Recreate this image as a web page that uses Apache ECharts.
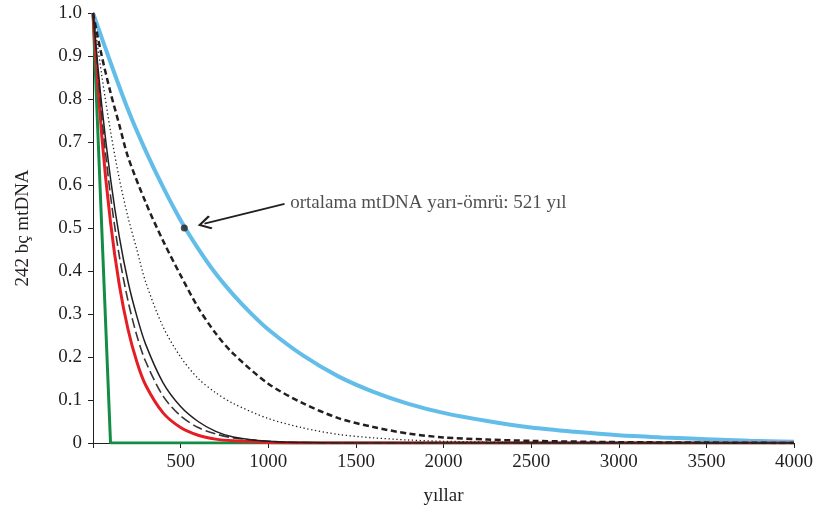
<!DOCTYPE html>
<html><head><meta charset="utf-8">
<script src="https://cdn.jsdelivr.net/npm/echarts@6/dist/echarts.min.js"></script>
<style>html,body{margin:0;padding:0;background:#fff}#c{width:816px;height:517px}</style>
</head><body><div id="c"></div>
<script>
// ---- data ----
const blueYears = [0,100,200,300,400,500,600,700,800,900,1000,1200,1400,1600,1800,2000,2250,2500,2750,3000,3250,3500,3750,4000];
const blueValues = [1,0.885,0.775,0.68,0.595,0.518,0.452,0.394,0.345,0.302,0.264,0.203,0.155,0.119,0.091,0.07,0.051,0.036,0.026,0.018,0.013,0.009,0.005,0.003];

const shortDashYears = [0,50,100,150,200,300,400,500,600,700,800,1000,1200,1400,1600,1800,2000,2250,2500,3000,3500,4000];
const shortDashValues = [1,0.9,0.815,0.74,0.665,0.56,0.47,0.39,0.315,0.255,0.208,0.138,0.092,0.058,0.037,0.022,0.013,0.008,0.005,0.002,0.001,0];

const dottedYears = [0,50,100,150,200,250,300,400,500,600,700,800,1000,1200,1400,1600,1800,2000,2500,3000,4000];
const dottedValues = [1,0.855,0.725,0.615,0.525,0.45,0.375,0.27,0.2,0.15,0.117,0.092,0.057,0.035,0.02,0.012,0.007,0.004,0.001,0,0];

const fastYears = [0,50,100,150,200,250,300,400,500,600,700,800,1000,1200,1400,4000];
const solidValues = [1,0.785,0.615,0.48,0.375,0.295,0.23,0.14,0.085,0.05,0.027,0.014,0.004,0.001,0,0];
const longDashValues = [1,0.76,0.575,0.435,0.33,0.25,0.19,0.109,0.063,0.036,0.021,0.012,0.004,0.001,0,0];
const redValues = [1,0.715,0.513,0.368,0.264,0.189,0.135,0.07,0.036,0.018,0.009,0.005,0.001,0,0,0];

const greenYears = [0,100,4000];
const greenValues = [1,0,0];

const halfLifePoint = [521, 0.5];
const arrowFrom = [1093, 0.556];
const arrowTo = [636, 0.510];
const labelAnchor = [1122, 0.558];
const annotationText = 'ortalama mtDNA yarı-ömrü: 521 yıl';

const xTitle = 'yıllar';
const yTitle = '242 bç mtDNA';

// ---- build ----
const zip = (xs, ys) => xs.map((x, i) => [x, ys[i]]);
const INK = '#231f20';
const FONT = 'Liberation Serif';
const FS = 19;

function lineSeries(name, xs, ys, color, width, type, z, smooth) {
  return {
    name, type: 'line', data: zip(xs, ys), symbol: 'none', smooth: smooth,
    lineStyle: { color, width, type, cap: 'butt' }, z, silent: true
  };
}

const chart = echarts.init(document.getElementById('c'), null, { renderer: 'canvas' });
chart.setOption({
  animation: false,
  backgroundColor: '#fff',
  grid: { left: 93, right: 21, top: 13, bottom: 74 },
  xAxis: {
    type: 'value', min: 0, max: 4000, interval: 500,
    axisLine: { show: true, onZero: false, lineStyle: { color: INK, width: 1 } },
    axisTick: { show: true, length: 5, lineStyle: { color: INK, width: 1 } },
    axisLabel: { formatter: v => v === 0 ? '' : String(v), color: INK, fontFamily: FONT, fontSize: FS, margin: 10 },
    splitLine: { show: false },
    name: xTitle, nameLocation: 'middle', nameGap: 44,
    nameTextStyle: { color: INK, fontFamily: FONT, fontSize: FS }
  },
  yAxis: {
    type: 'value', min: 0, max: 1, interval: 0.1,
    axisLine: { show: true, onZero: false, lineStyle: { color: INK, width: 1 } },
    axisTick: { show: true, length: 5, lineStyle: { color: INK, width: 1 } },
    axisLabel: { formatter: v => v === 0 ? '0' : v.toFixed(1), color: INK, fontFamily: FONT, fontSize: FS, margin: 11 },
    splitLine: { show: false },
    name: yTitle, nameLocation: 'middle', nameGap: 60,
    nameTextStyle: { color: INK, fontFamily: FONT, fontSize: FS }
  },
  series: [
    lineSeries('green', greenYears, greenValues, '#138c45', 3, 'solid', 2, false),
    lineSeries('red', fastYears, redValues, '#e51e25', 3, 'solid', 3, 0.3),
    lineSeries('blue', blueYears, blueValues, '#63bde9', 4, 'solid', 2, 0.3),
    lineSeries('shortDash', shortDashYears, shortDashValues, '#231f20', 2.5, [6, 3.5], 4, 0.3),
    lineSeries('dotted', dottedYears, dottedValues, '#231f20', 1.3, [1.3, 2.6], 4, 0.3),
    lineSeries('longDash', fastYears, longDashValues, '#3a3637', 1.6, [10, 4], 4, 0.3),
    lineSeries('solid', fastYears, solidValues, '#231f20', 1.5, 'solid', 4, 0.3),
    {
      name: 'halfLife', type: 'scatter', data: [halfLifePoint], symbol: 'circle', symbolSize: 7,
      itemStyle: { color: INK }, z: 6, silent: true,
      markLine: {
        silent: true, animation: false,
        symbol: ['none', 'path://M12,0 L24,15 L21.5,17 L12,5 L2.5,17 L0,15 Z'],
        symbolSize: 14,
        lineStyle: { color: INK, width: 1.8, type: 'solid' },
        label: { show: false },
        emphasis: { disabled: true },
        data: [[{ coord: arrowFrom }, { coord: arrowTo }]]
      }
    },
    {
      name: 'annotation', type: 'scatter', data: [labelAnchor], symbolSize: 1,
      itemStyle: { color: 'rgba(0,0,0,0)' }, silent: true,
      label: {
        show: true, position: 'right', distance: 0, formatter: annotationText,
        color: INK, fontFamily: FONT, fontSize: FS, align: 'left', verticalAlign: 'middle'
      }
    }
  ]
});
</script>
</body></html>
